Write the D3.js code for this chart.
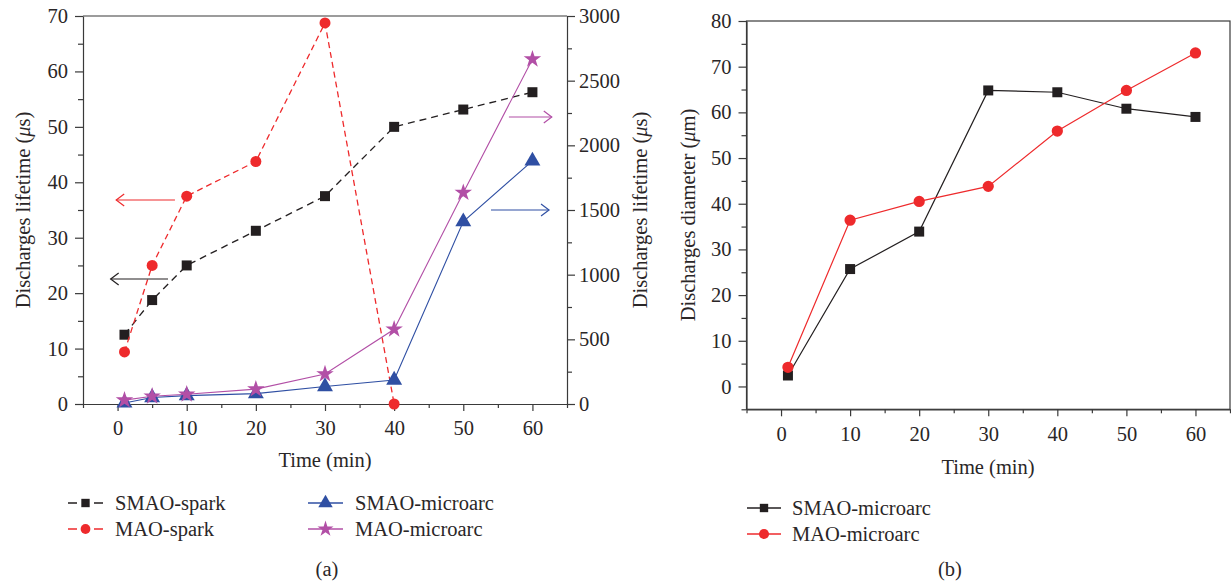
<!DOCTYPE html>
<html>
<head>
<meta charset="utf-8">
<script src="https://cdn.jsdelivr.net/npm/d3@7"></script>
<style>
  html, body { margin: 0; padding: 0; background: #fff; }
  svg { display: block; font-family: "Liberation Serif", "Times New Roman", serif; }
  .axis path, .axis line { stroke: #3a3a3a; stroke-width: 1.2; }
  .axis text { font-size: 20.5px; fill: #2a2627; font-family: "Liberation Serif", serif; }
  .title { font-size: 20.5px; fill: #2a2627; }
</style>
</head>
<body>
<script>
// Sampling times (min)
const timesA = [1, 5, 10, 20, 30, 40, 50, 60];
const timesSparkMAO = [1, 5, 10, 20, 30, 40];
const timesB = [1, 10, 20, 30, 40, 50, 60];

// (a) discharge lifetimes: spark on left axis (µs), microarc on right axis (µs)
const smaoSpark = [12.5, 18.75, 25, 31.25, 37.5, 50, 53.125, 56.25];
const maoSpark = [9.4, 25, 37.5, 43.75, 68.75, 0];
const smaoMicroarcA = [8, 50, 65, 80, 135, 185, 1410, 1880];
const maoMicroarcA = [30, 60, 75, 115, 232, 578, 1634, 2666];

// (b) discharge diameters (µm)
const smaoMicroarcB = [2.4, 25.7, 33.9, 64.8, 64.4, 60.8, 59.0];
const maoMicroarcB = [4.2, 36.4, 40.5, 43.8, 55.9, 64.8, 73.0];

// Axis ticks
const xTicksMajor = [0, 10, 20, 30, 40, 50, 60];
const xTicksMinor = [-5, 5, 15, 25, 35, 45, 55, 65];
const yLeftTicksA = [0, 10, 20, 30, 40, 50, 60, 70];
const yLeftMinorA = [5, 15, 25, 35, 45, 55, 65];
const yRightTicksA = [0, 500, 1000, 1500, 2000, 2500, 3000];
const yRightMinorA = [250, 750, 1250, 1750, 2250, 2750];
const yTicksB = [0, 10, 20, 30, 40, 50, 60, 70, 80];
const yMinorB = [-5, 5, 15, 25, 35, 45, 55, 65, 75];

// Legend labels
const legendA = ["SMAO-spark", "MAO-spark", "SMAO-microarc", "MAO-microarc"];
const legendB = ["SMAO-microarc", "MAO-microarc"];

const C = { black: "#231f20", red: "#ee2a2c", blue: "#2f4fa3", purple: "#b24fa6" };

const svg = d3.select("body").append("svg").attr("width", 1231).attr("height", 586);

// ---------- panel (a) ----------
const xA = d3.scaleLinear().domain([-5, 65]).range([83, 567]);
const yL = d3.scaleLinear().domain([0, 70]).range([404, 16]);
const yR = d3.scaleLinear().domain([0, 3000]).range([404, 16]);

function axisPair(g, axisFn, scale, major, minor, majorLen, minorLen, pad, fmt) {
  g.append("g").attr("class", "axis")
    .call(axisFn(scale).tickValues(major).tickSize(majorLen).tickSizeOuter(0).tickPadding(pad).tickFormat(fmt || d3.format("d")));
  const m = g.append("g").attr("class", "axis")
    .call(axisFn(scale).tickValues(minor).tickSize(minorLen).tickSizeOuter(0).tickFormat(""));
  m.select(".domain").remove();
}

const gA = svg.append("g");
// frame top
gA.append("line").attr("x1", xA.range()[0]).attr("x2", xA.range()[1])
  .attr("y1", yL.range()[1]).attr("y2", yL.range()[1])
  .attr("stroke", "#3a3a3a").attr("stroke-width", 1.2);

axisPair(gA.append("g").attr("transform", `translate(0,${yL(0)})`), d3.axisBottom, xA, xTicksMajor, xTicksMinor, 7, 4, 9.5);
axisPair(gA.append("g").attr("transform", `translate(${xA(-5)},0)`), d3.axisLeft, yL, yLeftTicksA, yLeftMinorA, 8, 5, 7);
axisPair(gA.append("g").attr("transform", `translate(${xA(65)},0)`), d3.axisRight, yR, yRightTicksA, yRightMinorA, 8, 5, 4);

function drawSeries(g, xs, ys, xScale, yScale, color, dash, sym, size, width) {
  const pts = xs.map((x, i) => [xScale(x), yScale(ys[i])]);
  g.append("path").attr("d", d3.line()(pts)).attr("fill", "none")
    .attr("stroke", color).attr("stroke-width", width).attr("stroke-dasharray", dash);
  g.selectAll(null).data(pts).enter().append("path")
    .attr("transform", d => `translate(${d[0]},${d[1]})`)
    .attr("d", d3.symbol().type(sym).size(size)).attr("fill", color);
}

drawSeries(gA, timesA, smaoSpark, xA, yL, C.black, "7,5", d3.symbolSquare, 100, 1.3);
drawSeries(gA, timesSparkMAO, maoSpark, xA, yL, C.red, "6,4", d3.symbolCircle, 95, 1.3);
drawSeries(gA, timesA, smaoMicroarcA, xA, yR, C.blue, null, d3.symbolTriangle, 110, 1.1);
drawSeries(gA, timesA, maoMicroarcA, xA, yR, C.purple, null, d3.symbolStar, 95, 1.1);

// Arrows pointing to the axis each series is read from
function arrow(g, x1, x2, y, color) {
  const dir = Math.sign(x2 - x1);
  g.append("line").attr("x1", x1).attr("x2", x2).attr("y1", y).attr("y2", y)
    .attr("stroke", color).attr("stroke-width", 1.2);
  g.append("path").attr("d", `M${x2 - dir * 8},${y - 6}L${x2},${y}L${x2 - dir * 8},${y + 6}`)
    .attr("fill", "none").attr("stroke", color).attr("stroke-width", 1.2);
}
arrow(gA, xA(8.3), xA(-0.2), yL(36.8), C.red);
arrow(gA, xA(7.3), xA(-1.0), yL(22.55), C.black);
arrow(gA, xA(56.6), xA(62.8), yR(2219), C.purple);
arrow(gA, xA(54.0), xA(62.4), yR(1500), C.blue);

// Titles
gA.append("text").attr("class", "title").attr("x", 325).attr("y", 460).attr("dy", "0.35em")
  .attr("text-anchor", "middle").text("Time (min)");
function yTitle(g, x, y, label, unit) {
  const t = g.append("text").attr("class", "title")
    .attr("transform", `translate(${x},${y}) rotate(-90)`)
    .attr("dy", "0.35em").attr("text-anchor", "middle");
  t.append("tspan").text(label + " (");
  t.append("tspan").attr("font-style", "italic").text("\u03bc");
  t.append("tspan").text(unit + ")");
}
yTitle(gA, 23, 210, "Discharges lifetime", "s");
yTitle(gA, 640, 210, "Discharges lifetime", "s");

// Legend (a)
const legA = [
  { name: legendA[0], color: C.black, dash: "9,17,9", sym: d3.symbolSquare, size: 70, x: 68, y: 503 },
  { name: legendA[1], color: C.red, dash: "9,17,9", sym: d3.symbolCircle, size: 75, x: 68, y: 529 },
  { name: legendA[2], color: C.blue, dash: null, sym: d3.symbolTriangle, size: 90, x: 308, y: 503 },
  { name: legendA[3], color: C.purple, dash: null, sym: d3.symbolStar, size: 80, x: 308, y: 529 }
];
legA.forEach(d => {
  gA.append("line").attr("x1", d.x).attr("x2", d.x + 35).attr("y1", d.y).attr("y2", d.y)
    .attr("stroke", d.color).attr("stroke-width", 1.3).attr("stroke-dasharray", d.dash);
  gA.append("path").attr("transform", `translate(${d.x + 17.5},${d.y})`)
    .attr("d", d3.symbol().type(d.sym).size(d.size)).attr("fill", d.color);
  gA.append("text").attr("class", "title").attr("x", d.x + 47).attr("y", d.y).attr("dy", "0.35em").text(d.name);
});
gA.append("text").attr("class", "title").attr("x", 327).attr("y", 569).attr("dy", "0.35em")
  .attr("text-anchor", "middle").text("(a)");

// ---------- panel (b) ----------
const xB = d3.scaleLinear().domain([-5, 65]).range([746.5, 1230]);
const yB = d3.scaleLinear().domain([-5, 80]).range([409.3, 21]);
const gB = svg.append("g");
gB.append("rect").attr("x", xB(-5)).attr("y", yB(80))
  .attr("width", xB(65) - xB(-5)).attr("height", yB(-5) - yB(80))
  .attr("fill", "none").attr("stroke", "#3a3a3a").attr("stroke-width", 1.2);
axisPair(gB.append("g").attr("transform", `translate(0,${yB(-5)})`), d3.axisBottom, xB, xTicksMajor, xTicksMinor, 7, 4, 10.5);
axisPair(gB.append("g").attr("transform", `translate(${xB(-5)},0)`), d3.axisLeft, yB, yTicksB, yMinorB, 8, 5, 7);

drawSeries(gB, timesB, smaoMicroarcB, xB, yB, C.black, null, d3.symbolSquare, 100, 1.2);
drawSeries(gB, timesB, maoMicroarcB, xB, yB, C.red, null, d3.symbolCircle, 100, 1.2);

gB.append("text").attr("class", "title").attr("x", 988).attr("y", 467).attr("dy", "0.35em")
  .attr("text-anchor", "middle").text("Time (min)");
yTitle(gB, 688, 215, "Discharges diameter", "m");

const legB = [
  { name: legendB[0], color: C.black, sym: d3.symbolSquare, size: 70, y: 508 },
  { name: legendB[1], color: C.red, sym: d3.symbolCircle, size: 80, y: 534 }
];
legB.forEach(d => {
  gB.append("line").attr("x1", 747).attr("x2", 781).attr("y1", d.y).attr("y2", d.y)
    .attr("stroke", d.color).attr("stroke-width", 1.3);
  gB.append("path").attr("transform", `translate(764,${d.y})`)
    .attr("d", d3.symbol().type(d.sym).size(d.size)).attr("fill", d.color);
  gB.append("text").attr("class", "title").attr("x", 792).attr("y", d.y).attr("dy", "0.35em").text(d.name);
});
gB.append("text").attr("class", "title").attr("x", 950).attr("y", 569).attr("dy", "0.35em")
  .attr("text-anchor", "middle").text("(b)");
</script>
</body>
</html>
